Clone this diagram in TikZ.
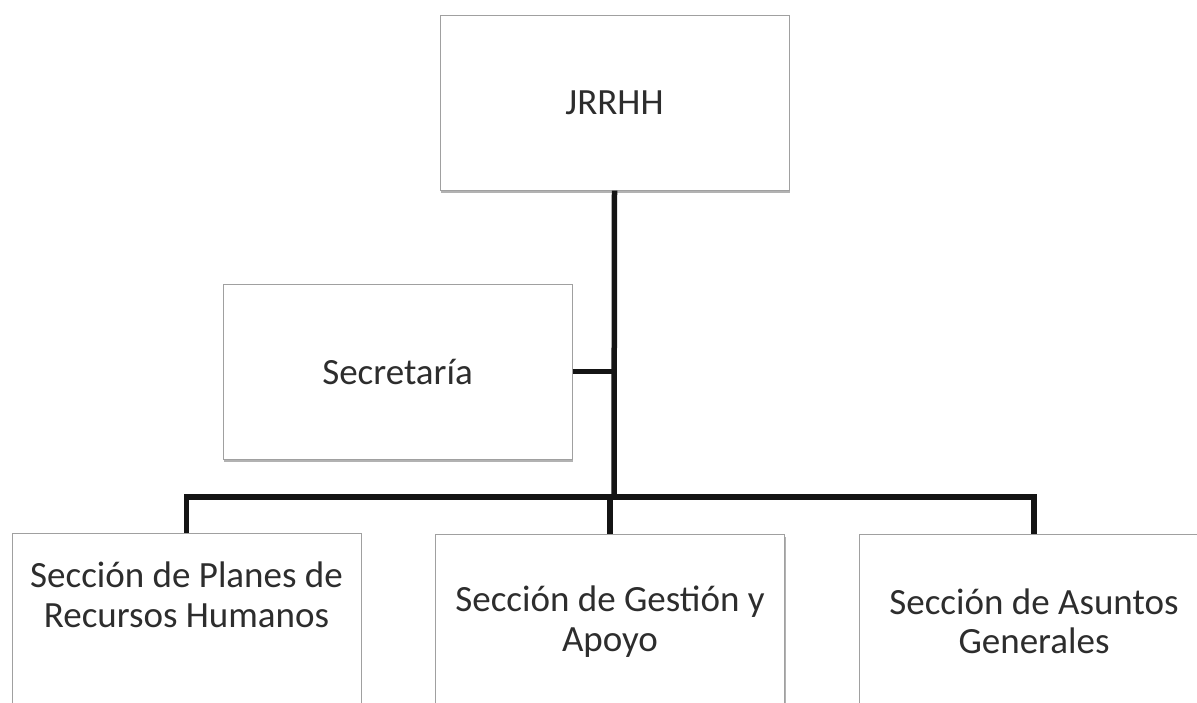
\documentclass[tikz,border=0pt]{standalone}
\usepackage{fontspec}
\setmainfont{Carlito}
\usetikzlibrary{shadows}
\definecolor{boxline}{RGB}{160,160,160}
\definecolor{txt}{RGB}{45,45,45}
\tikzset{
  orgbox/.style={draw=boxline, line width=1pt, fill=white, minimum width=349pt, minimum height=175pt,
    inner sep=0pt, align=center, text=txt, font=\fontsize{37}{39.5}\selectfont,
    drop shadow={shadow xshift=1pt, shadow yshift=-2.5pt, opacity=0.3, fill=black}},
  boxtext/.style={align=center, text=txt, font=\fontsize{37}{39.5}\selectfont, inner sep=0pt},
  conn/.style={line width=5.5pt, draw=black!92}
}
\begin{document}
\begin{tikzpicture}[x=1pt,y=-1pt]
\useasboundingbox (0,0) rectangle (1197,702);
\begin{scope}
\clip (0,0) rectangle (1197,702);
\coordinate (bus) at (614,497);
\node[orgbox] (top) at (614.5,102.5) {JRRHH};
\node[orgbox] (sec) at (397.5,371.5) {Secretaría};
\node[orgbox] (plan) at (186.5,620.5) {};
\node[orgbox] (gest) at (610,621.5) {Sección de Gestión y\\Apoyo};
\node[orgbox] (asun) at (1034,621.5) {Sección de Asuntos\\Generales};
\node[boxtext] (plantext) at (186.5,595) {Sección de Planes de\\Recursos Humanos};
\draw[conn] (top.south) -- (bus);
\draw[conn] (sec.east) -- (sec.east -| bus);
\draw[conn] (plan.north) |- (bus) -| (asun.north);
\draw[conn] (gest.north) -- (gest.north |- bus);
\end{scope}
\end{tikzpicture}
\end{document}
